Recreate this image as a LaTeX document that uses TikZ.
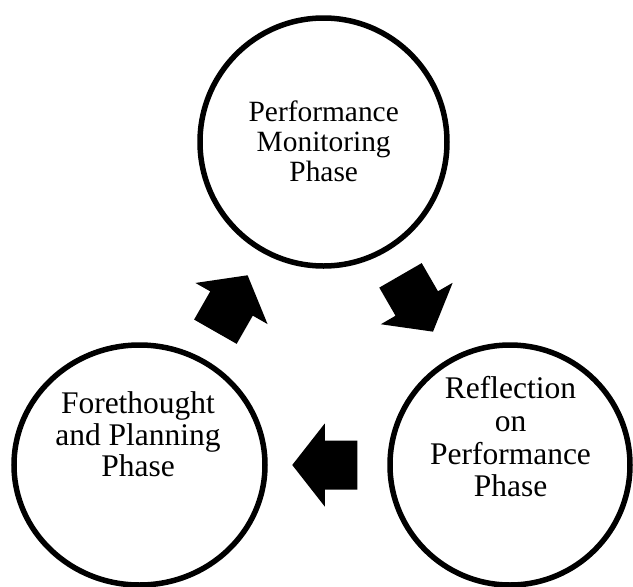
\documentclass[tikz,border=0pt]{standalone}
\usepackage{fontspec}
\setmainfont{Liberation Serif}
\usetikzlibrary{shapes.geometric,calc}
\tikzset{
  phase/.style={ellipse, draw=black, line width=5.5pt, inner sep=0pt},
  phasetext/.style={align=center, inner sep=0pt},
  blockarrow/.pic={
    \fill[black] (32.5,0) -- (0,41.5) -- (0,24.5) -- (-32.5,24.5)
      -- (-32.5,-24.5) -- (0,-24.5) -- (0,-41.5) -- cycle;
  }
}
\begin{document}
\begin{tikzpicture}[x=1pt,y=-1pt]
\useasboundingbox (0,0) rectangle (633,587);
\node[phase, minimum width=247pt, minimum height=248pt] (top) at (323.5,142) {};
\node[phase, minimum width=251pt, minimum height=240pt] (left) at (139.5,465) {};
\node[phase, minimum width=240pt, minimum height=240pt] (right) at (510,465) {};
\node[phasetext, font=\fontsize{29.4}{30}\selectfont] (toptext) at (323.7,141.6) {Performance\\Monitoring\\Phase};
\node[phasetext, font=\fontsize{31.5}{31.7}\selectfont] (lefttext) at (138,434.3) {Forethought\\and Planning\\Phase};
\node[phasetext, font=\fontsize{31.5}{32.8}\selectfont] (righttext) at (510.5,436.8) {Reflection\\on\\Performance\\Phase};
\coordinate (a1) at ($(left.center)!0.5!(top.center)$);
\coordinate (a2) at ($(top.center)!0.5!(right.center)$);
\coordinate (a3) at ($(right.center)!0.5!(left.center)$);
\pic[rotate=60.3] at (a1) {blockarrow};
\pic[rotate=-60] at (a2) {blockarrow};
\pic[rotate=180] at (a3) {blockarrow};
\end{tikzpicture}
\end{document}
